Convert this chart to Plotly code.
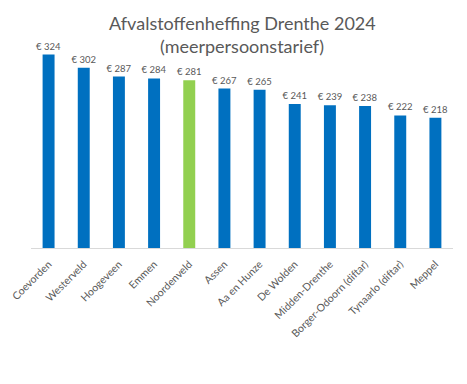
import plotly.graph_objects as go

gemeenten = ["Coevorden", "Westerveld", "Hoogeveen", "Emmen", "Noordenveld", "Assen",
             "Aa en Hunze", "De Wolden", "Midden-Drenthe", "Borger-Odoorn (diftar)",
             "Tynaarlo (diftar)", "Meppel"]
tarief = [324, 302, 287, 284, 281, 267, 265, 241, 239, 238, 222, 218]
highlight = "Noordenveld"

colors = ["#92D050" if g == highlight else "#0070C0" for g in gemeenten]

fig = go.Figure(go.Bar(
    x=gemeenten, y=tarief,
    marker=dict(color=colors, line=dict(width=0)),
    width=0.34,
    texttemplate="€ %{y}", textposition="outside",
    constraintext="none",
    textfont=dict(size=9.5, color="#595959", family="Lato"),
    cliponaxis=False,
))

PH = 384 - 39 - 136
fig.add_annotation(text="Afvalstoffenheffing Drenthe 2024", xref="paper", yref="paper",
                   x=0.5, y=1 + 16/PH, xanchor="center", yanchor="middle", showarrow=False,
                   font=dict(size=18, color="#595959", family="Lato"))
fig.add_annotation(text="(meerpersoonstarief)", xref="paper", yref="paper",
                   x=0.5, y=1 - 7/PH, xanchor="center", yanchor="middle", showarrow=False,
                   font=dict(size=18, color="#595959", family="Lato"))

fig.update_layout(
    width=467, height=384,
    margin=dict(l=31, r=14, t=39, b=136),
    paper_bgcolor="white", plot_bgcolor="white",
    showlegend=False,
    font=dict(family="Lato", color="#595959"),
    xaxis=dict(tickangle=-45, tickfont=dict(size=10.5, color="#595959"),
               ticklabelstandoff=5,
               showline=True, linecolor="#D9D9D9", linewidth=1, ticks="",
               showgrid=False, automargin=False),
    yaxis=dict(range=[0, 350], visible=False, showgrid=False, automargin=False),
)

fig.write_html("out.html", config={"displayModeBar": False},
               post_script="document.body.style.margin='0';")
